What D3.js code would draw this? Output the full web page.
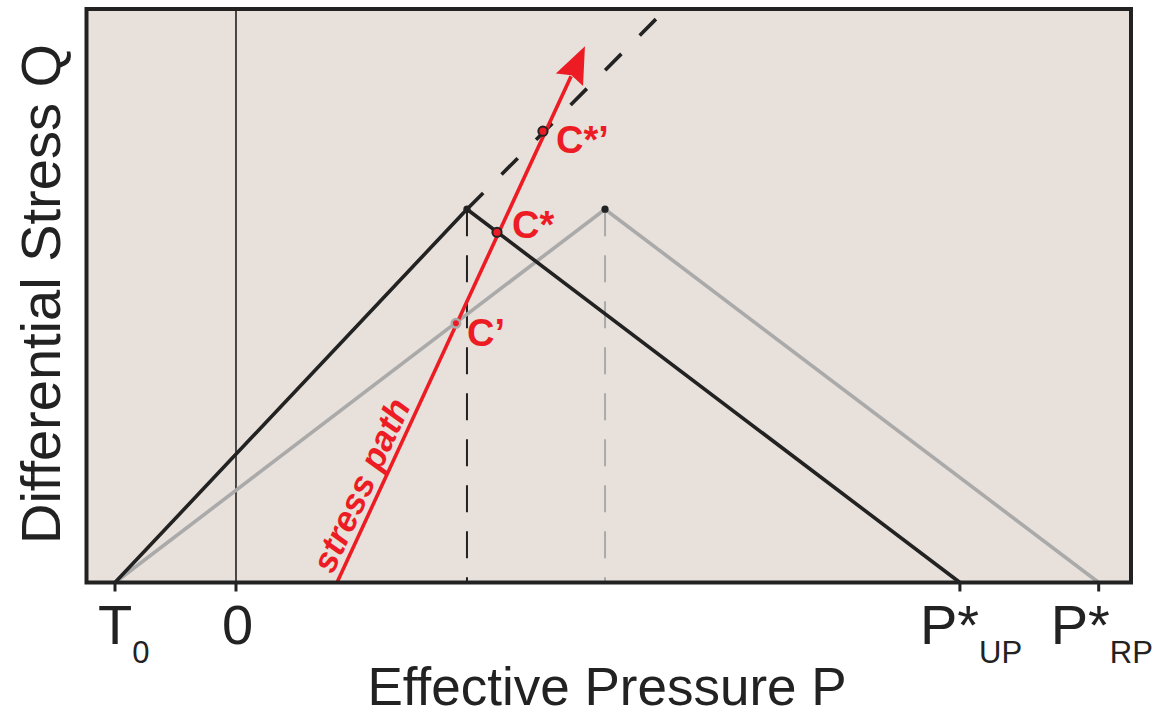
<!DOCTYPE html>
<html><head><meta charset="utf-8">
<script src="https://cdn.jsdelivr.net/npm/d3@7"></script>
<style>
html,body{margin:0;padding:0;background:#fff;}
text{font-family:"Liberation Sans",Arial,Helvetica,sans-serif;}
</style></head>
<body>
<svg id="c" width="1165" height="715"></svg>
<script>
// ---- data (effective pressure P, differential stress Q) ----
const tickValues = [-1, 0, 5.983, 7.13];
const tickMain = ["T", "0", "P*", "P*"];
const tickSub  = ["0", "", "UP", "RP"];
const envelopeUP = [[-1, 0], [1.909, 3.0], [5.983, 0]];      // black envelope
const envelopeRP = [[-1, 0], [3.05, 3.0], [7.13, 0]];        // gray envelope
const extensionUP = [[1.909, 3.0], [3.471, 4.528]];           // dashed extension
const peakDrops = [[1.909, 3.0], [3.05, 3.0]];
const stressPath = [[0.835, 0], [2.884, 4.31]];
const pointNames = ["C\u2019", "C*", "C*\u2019"];
const pointP = [1.818, 2.157, 2.537];
const pointQ = [2.083, 2.815, 3.627];

const xMin = -1.2355, xMax = 7.397, yMax = 4.609;
const svg = d3.select("#c");
const L = 86.5, R = 1131, T = 9, B = 582.5;
const x = d3.scaleLinear().domain([xMin, xMax]).range([L, R]);
const y = d3.scaleLinear().domain([0, yMax]).range([B, T]);
const red = "#ed1c24", dark = "#222", gray = "#aaaaaa";

svg.append("rect").attr("x", L).attr("y", T).attr("width", R - L).attr("height", B - T)
  .attr("fill", "#e8e0da");

// zero line
svg.append("line").attr("x1", x(0)).attr("x2", x(0)).attr("y1", T).attr("y2", B)
  .attr("stroke", dark).attr("stroke-width", 1.6);

const line = d3.line().x(d => x(d[0])).y(d => y(d[1]));

// peak drop dashed lines
peakDrops.forEach((p, i) => {
  svg.append("line").attr("x1", x(p[0])).attr("x2", x(p[0])).attr("y1", y(p[1])).attr("y2", B)
    .attr("stroke", i === 0 ? dark : gray).attr("stroke-width", 2)
    .attr("stroke-dasharray", "27,19");
});

svg.append("path").attr("d", line(envelopeRP)).attr("fill", "none")
  .attr("stroke", gray).attr("stroke-width", 3.6);
svg.append("path").attr("d", line(envelopeUP)).attr("fill", "none")
  .attr("stroke", dark).attr("stroke-width", 3.6);
svg.append("path").attr("d", line(extensionUP)).attr("fill", "none")
  .attr("stroke", dark).attr("stroke-width", 3.6).attr("stroke-dasharray", "23,26");

// peak dots
peakDrops.forEach(p => {
  svg.append("circle").attr("cx", x(p[0])).attr("cy", y(p[1])).attr("r", 3.6).attr("fill", dark);
});

// stress path with arrowhead
const sx0 = x(stressPath[0][0]), sy0 = y(stressPath[0][1]);
const sx1 = x(stressPath[1][0]), sy1 = y(stressPath[1][1]);
const len = Math.hypot(sx1 - sx0, sy1 - sy0);
const ux = (sx1 - sx0) / len, uy = (sy1 - sy0) / len;
const headLen = 37, headW = 15;
const bx = sx1 - ux * headLen, by = sy1 - uy * headLen;
svg.append("line").attr("x1", sx0).attr("y1", sy0).attr("x2", bx + ux * 4).attr("y2", by + uy * 4)
  .attr("stroke", red).attr("stroke-width", 3.6);
svg.append("path").attr("d",
  `M${sx1},${sy1} L${bx - uy * headW},${by + ux * headW} L${bx + ux * 5},${by + uy * 5} L${bx + uy * headW},${by - ux * headW} Z`)
  .attr("fill", red);

// stress path label
const ang = Math.atan2(uy, ux) * 180 / Math.PI;
const tpx = sx0 + ux * 5 + uy * 7, tpy = sy0 + uy * 5 - ux * 7;
svg.append("text").attr("transform", `translate(${tpx},${tpy}) rotate(${ang})`)
  .attr("fill", red).attr("font-size", 35).attr("font-weight", "bold").attr("font-style", "italic")
  .text("stress path");

// points
const labelOff = [[11, 23], [15, 6], [13, 22]];
pointNames.forEach((n, i) => {
  const cx = x(pointP[i]), cy = y(pointQ[i]);
  svg.append("circle").attr("cx", cx).attr("cy", cy).attr("r", i === 0 ? 4.2 : 4.6)
    .attr("fill", red).attr("stroke", i === 0 ? gray : dark).attr("stroke-width", i === 0 ? 2.5 : 2);
  svg.append("text").attr("x", cx + labelOff[i][0]).attr("y", cy + labelOff[i][1])
    .attr("fill", red).attr("font-size", 38).attr("font-weight", "bold").text(n);
});

// frame
svg.append("rect").attr("x", L).attr("y", T).attr("width", R - L).attr("height", B - T)
  .attr("fill", "none").attr("stroke", dark).attr("stroke-width", 4);

// ticks
const startOff = [-17, -14, -40, -48];
tickValues.forEach((v, i) => {
  svg.append("line").attr("x1", x(v)).attr("x2", x(v)).attr("y1", B).attr("y2", B + 9)
    .attr("stroke", dark).attr("stroke-width", 3);
  const t = svg.append("text").attr("x", x(v) + startOff[i]).attr("y", 644)
    .attr("fill", dark).attr("font-size", 56);
  t.append("tspan").text(tickMain[i]);
  if (tickSub[i]) t.append("tspan").attr("dy", 19).attr("font-size", 31).text(tickSub[i]);
});

// axis titles
svg.append("text").attr("x", 607).attr("y", 705).attr("text-anchor", "middle")
  .attr("fill", dark).attr("font-size", 53).text("Effective Pressure P");
svg.append("text").attr("transform", "translate(60,294) rotate(-90)").attr("text-anchor", "middle")
  .attr("fill", dark).attr("font-size", 56).text("Differential Stress Q");
</script>
</body></html>
